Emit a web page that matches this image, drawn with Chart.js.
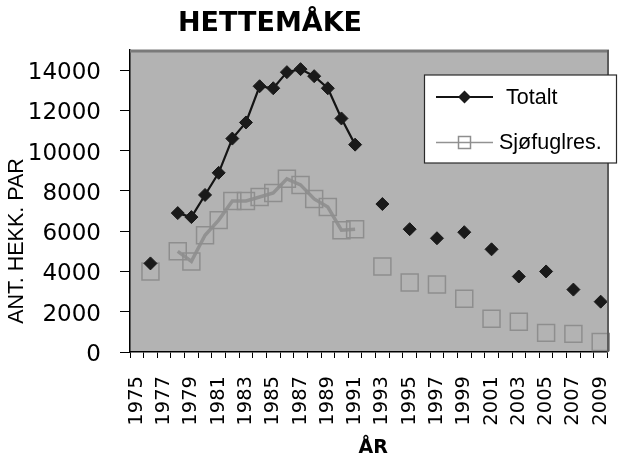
<!DOCTYPE html>
<html>
<head>
<meta charset="utf-8">
<script src="https://cdn.jsdelivr.net/npm/chart.js@4/dist/chart.umd.min.js"></script>
<style>
  html, body { margin: 0; padding: 0; background: #ffffff; }
  #wrap { width: 621px; height: 456px; }
</style>
</head>
<body>
<div id="wrap"><canvas id="c" width="621" height="456"></canvas></div>
<script>
// ---- Data ----
const chartTitle = 'HETTEMÅKE';
const xAxisTitle = 'ÅR';
const yAxisTitle = 'ANT. HEKK. PAR';
const seriesNames = ['Totalt', 'Sjøfuglres.'];

const years = ['1975','1976','1977','1978','1979','1980','1981','1982','1983','1984',
               '1985','1986','1987','1988','1989','1990','1991','1992','1993','1994',
               '1995','1996','1997','1998','1999','2000','2001','2002','2003','2004',
               '2005','2006','2007','2008','2009'];

const totalt = [null, 4400, null, 6900, 6700, 7800, 8900, 10600, 11400, 13200,
                13100, 13900, 14050, 13700, 13100, 11600, 10300, null, 7350, null,
                6100, null, 5650, null, 5950, null, 5100, null, 3750, null,
                4000, null, 3100, null, 2500];

const sjofuglres = [null, 4000, null, 5000, 4500, 5800, 6550, 7500, 7500, 7700,
                    7900, 8600, 8300, 7600, 7200, 6050, 6100, null, 4250, null,
                    3450, null, 3350, null, 2650, null, 1650, null, 1500, null,
                    950, null, 900, null, 500];

const yTicks = [0, 2000, 4000, 6000, 8000, 10000, 12000, 14000];
const yMax = 15000;

// ---- Plugins ----
const plotBackground = {
  id: 'plotBackground',
  beforeDraw(chart) {
    const {ctx, chartArea: a} = chart;
    ctx.save();
    ctx.fillStyle = '#b3b3b3';
    ctx.fillRect(a.left, a.top, a.right - a.left, a.bottom - a.top);
    ctx.restore();
  },
  afterDatasetsDraw(chart) {
    const {ctx, chartArea: a} = chart;
    ctx.save();
    ctx.strokeStyle = '#7a7a7a';
    ctx.lineWidth = 3;
    ctx.beginPath();
    ctx.moveTo(a.left, a.top + 1);
    ctx.lineTo(a.right + 1.5, a.top + 1);
    ctx.stroke();
    ctx.strokeStyle = '#5c5c5c';
    ctx.lineWidth = 2;
    ctx.beginPath();
    ctx.moveTo(a.right + 0.5, a.top);
    ctx.lineTo(a.right + 0.5, a.bottom);
    ctx.stroke();
    ctx.restore();
  }
};

const placement = {
  id: 'placement',
  afterLayout(chart) {
    const t = chart.titleBlock;
    if (t) { t.left = 0; t.right = 540; }
    const y = chart.scales.y;
    if (y && !y.__shifted) {
      const orig = y.drawTitle;
      y.drawTitle = function () {
        this.ctx.save(); this.ctx.translate(0, 40); orig.call(this); this.ctx.restore();
      };
      y.__shifted = true;
    }
    const x = chart.scales.x;
    if (x && !x.__shifted) {
      const orig = x.drawTitle;
      x.drawTitle = function () {
        this.ctx.save(); this.ctx.translate(4.5, 0); orig.call(this); this.ctx.restore();
      };
      x.__shifted = true;
    }
  }
};

const boxLegend = {
  id: 'boxLegend',
  afterDraw(chart) {
    const ctx = chart.ctx;
    ctx.save();
    ctx.fillStyle = '#ffffff';
    ctx.fillRect(424, 75, 193, 88);
    ctx.strokeStyle = '#2a2a2a';
    ctx.lineWidth = 1.2;
    ctx.strokeRect(424.5, 75, 192, 88);
    const rows = [{y: 97, tx: 506}, {y: 142.5, tx: 499}];
    chart.data.datasets.forEach((ds, i) => {
      const r = rows[i];
      ctx.strokeStyle = ds.borderColor;
      ctx.lineWidth = i === 0 ? 2.2 : 1.6;
      ctx.beginPath();
      ctx.moveTo(436, r.y);
      ctx.lineTo(493, r.y);
      ctx.stroke();
      const cx = 464.5;
      if (ds.pointStyle === 'rectRot') {
        ctx.fillStyle = ds.pointBackgroundColor;
        ctx.beginPath();
        ctx.moveTo(cx - 6.5, r.y); ctx.lineTo(cx, r.y - 6.5);
        ctx.lineTo(cx + 6.5, r.y); ctx.lineTo(cx, r.y + 6.5);
        ctx.closePath();
        ctx.fill();
      } else {
        ctx.strokeStyle = ds.pointBorderColor;
        ctx.lineWidth = 1.5;
        ctx.strokeRect(cx - 6, r.y - 6, 12, 12);
      }
      ctx.fillStyle = '#000000';
      ctx.font = '21.5px "Liberation Sans", Arial, sans-serif';
      ctx.textBaseline = 'middle';
      ctx.textAlign = 'left';
      ctx.fillText(ds.label, r.tx, r.y + 1);
    });
    ctx.restore();
  }
};

// ---- Chart ----
new Chart(document.getElementById('c'), {
  type: 'line',
  data: {
    labels: years,
    datasets: [
      {
        label: seriesNames[0],
        data: totalt,
        borderColor: '#141414',
        backgroundColor: '#141414',
        borderWidth: 2.2,
        pointStyle: 'rectRot',
        pointRadius: 6.5,
        pointBorderWidth: 1,
        pointBackgroundColor: '#1a1a1a',
        pointBorderColor: '#1a1a1a',
        spanGaps: false,
        tension: 0,
        order: 0
      },
      {
        label: seriesNames[1],
        data: sjofuglres,
        borderColor: '#929292',
        backgroundColor: 'rgba(0,0,0,0)',
        borderWidth: 3.5,
        pointStyle: 'rect',
        pointRadius: 12,
        pointBorderWidth: 1.5,
        pointBackgroundColor: 'rgba(0,0,0,0)',
        pointBorderColor: '#8e8e8e',
        spanGaps: false,
        tension: 0,
        order: 1
      }
    ]
  },
  options: {
    responsive: false,
    animation: false,
    devicePixelRatio: 1,
    layout: { padding: { left: 0, right: 2, top: 0, bottom: 0 } },
    plugins: {
      legend: { display: false },
      tooltip: { enabled: false },
      title: {
        display: true,
        text: chartTitle,
        color: '#000000',
        font: { family: 'DejaVu Sans', size: 27, weight: 'bold' },
        padding: { top: 7.6, bottom: 10 }
      }
    },
    scales: {
      x: {
        type: 'category',
        offset: true,
        grid: { display: true, drawOnChartArea: false, drawTicks: true, tickLength: 6, color: '#000000', offset: true, lineWidth: 1 },
        border: { display: true, color: '#000000', width: 1.5 },
        ticks: {
          autoSkip: false,
          minRotation: 90,
          maxRotation: 90,
          padding: 18,
          color: '#000000',
          font: { family: 'DejaVu Sans', size: 19.5 },
          callback: function (value, index) { return index % 2 === 0 ? years[index] : ''; }
        },
        title: {
          display: true,
          text: xAxisTitle,
          color: '#000000',
          font: { family: 'DejaVu Sans', size: 19, weight: 'bold' },
          padding: { top: 0, bottom: -3 }
        },
        afterFit: (s) => { s.height = 104; s.paddingLeft = 0; s.paddingRight = 0; }
      },
      y: {
        min: 0,
        max: yMax,
        afterBuildTicks: (s) => { s.ticks = yTicks.map(v => ({ value: v })); },
        grid: { display: true, drawOnChartArea: false, drawTicks: true, tickLength: 10, color: '#000000', lineWidth: 1 },
        border: { display: true, color: '#000000', width: 1.5 },
        ticks: {
          padding: 19,
          labelOffset: 3,
          color: '#000000',
          font: { family: 'DejaVu Sans', size: 23 },
          callback: (value) => String(value)
        },
        title: {
          display: true,
          text: yAxisTitle,
          color: '#000000',
          font: { family: 'Liberation Sans', size: 21.5 },
          padding: { top: 4.5, bottom: 0 }
        },
        afterFit: (s) => { s.width = 130; s.paddingTop = 0; s.paddingBottom = 0; }
      }
    }
  },
  plugins: [plotBackground, placement, boxLegend]
});
</script>
</body>
</html>
